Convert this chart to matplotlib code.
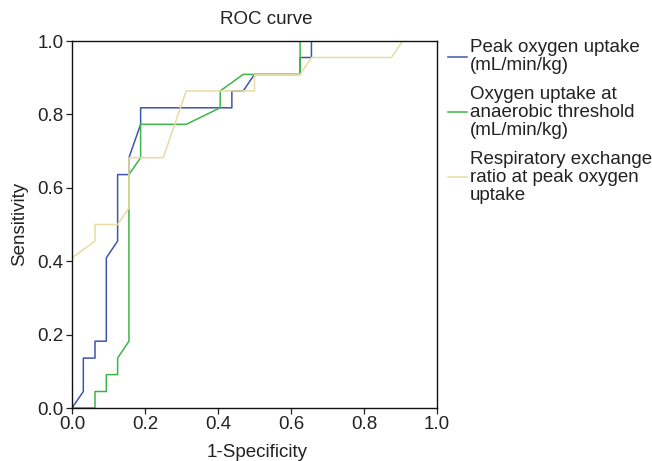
import matplotlib
matplotlib.use("Agg")
import matplotlib.pyplot as plt

plt.rcParams['font.family'] = ['Liberation Sans', 'DejaVu Sans']

# Series: (1-Specificity, Sensitivity)
peak_fpr = [0, 0.031, 0.031, 0.063, 0.063, 0.094, 0.094, 0.125, 0.125, 0.156, 0.156,
            0.188, 0.188, 0.438, 0.438, 0.469, 0.5, 0.625, 0.625, 0.656, 0.656, 1.0]
peak_tpr = [0, 0.045, 0.136, 0.136, 0.182, 0.182, 0.409, 0.455, 0.636, 0.636, 0.682,
            0.773, 0.818, 0.818, 0.864, 0.864, 0.909, 0.909, 0.955, 0.955, 1.0, 1.0]

at_fpr = [0, 0.063, 0.063, 0.094, 0.094, 0.125, 0.125, 0.156, 0.156, 0.188, 0.188,
          0.313, 0.406, 0.406, 0.469, 0.625, 0.625, 1.0]
at_tpr = [0, 0, 0.045, 0.045, 0.091, 0.091, 0.136, 0.182, 0.636, 0.682, 0.773,
          0.773, 0.818, 0.864, 0.909, 0.909, 1.0, 1.0]

rer_fpr = [0, 0.063, 0.063, 0.125, 0.156, 0.156, 0.25, 0.313, 0.5, 0.5, 0.625,
           0.656, 0.875, 0.906, 1.0]
rer_tpr = [0.409, 0.455, 0.5, 0.5, 0.545, 0.682, 0.682, 0.864, 0.864, 0.909, 0.909,
           0.955, 0.955, 1.0, 1.0]

labels = ["Peak oxygen uptake\n(mL/min/kg)",
          "Oxygen uptake at\nanaerobic threshold\n(mL/min/kg)",
          "Respiratory exchange\nratio at peak oxygen\nuptake"]
colors = ["#3d57ad", "#3fb449", "#e6dca3"]
ticks = [0.0, 0.2, 0.4, 0.6, 0.8, 1.0]
tick_labels = ["0.0", "0.2", "0.4", "0.6", "0.8", "1.0"]

FS = 13.5
TXT = "#222222"

fig = plt.figure(figsize=(6.52, 4.61), dpi=100)
ax = fig.add_axes([72/652, 1-408/461, (437-72)/652, (408-41)/461])

ax.plot(peak_fpr, peak_tpr, color=colors[0], lw=1.1, label=labels[0])
ax.plot(at_fpr, at_tpr, color=colors[1], lw=1.1, label=labels[1])
ax.plot(rer_fpr, rer_tpr, color=colors[2], lw=1.1, label=labels[2])

ax.set_xlim(0, 1)
ax.set_ylim(0, 1)
ax.set_xticks(ticks)
ax.set_xticklabels(tick_labels)
ax.set_yticks(ticks)
ax.set_yticklabels(tick_labels)
ax.tick_params(labelsize=FS, colors=TXT, length=4, width=0.9, pad=2)
for s in ax.spines.values():
    s.set_linewidth(1.0)
    s.set_color("#111111")

fig.text(266/652, 1-19/461, "ROC curve", ha="center", va="center", fontsize=FS, color=TXT)
fig.text(257/652, 1-452/461, "1-Specificity", ha="center", va="center", fontsize=FS, color=TXT)
fig.text(20/652, 1-224/461, "Sensitivity", ha="center", va="center", rotation=90,
         fontsize=FS, color=TXT)

leg = fig.legend(loc="upper left", bbox_to_anchor=(448/652, 1-39/461), frameon=False,
                 fontsize=FS, handlelength=1.0, handletextpad=0.15, labelspacing=0.62,
                 borderpad=0, borderaxespad=0)
for t in leg.get_texts():
    t.set_color(TXT)
    t.set_linespacing(1.09)

fig.savefig("out.png", dpi=100)
